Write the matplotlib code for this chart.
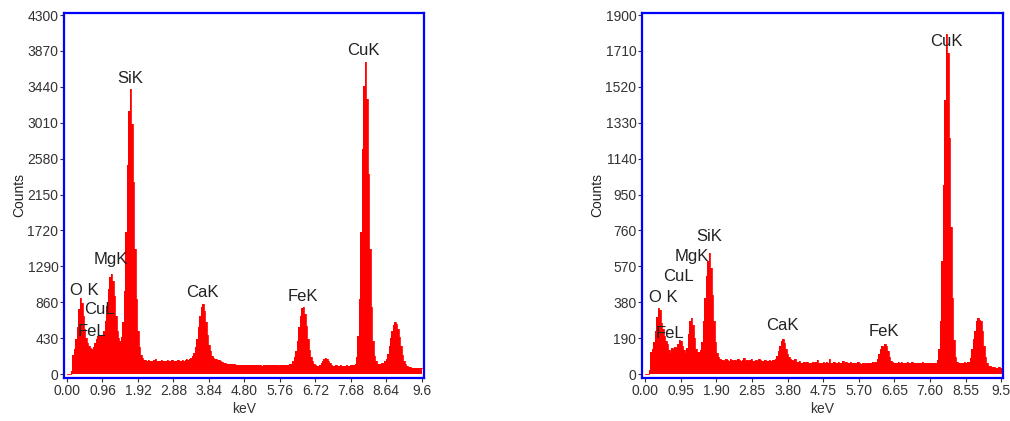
import numpy as np
import matplotlib
matplotlib.use("Agg")
import matplotlib.pyplot as plt

plt.rcParams['font.family'] = ['Liberation Sans', 'DejaVu Sans']

# channel width of both spectra (keV)
step = 0.04

# left spectrum, counts per channel from 0.00 keV
counts_a = [
    0, 0, 0, 40, 230, 300, 420, 560, 780, 910,
    850, 700, 540, 430, 370, 340, 310, 300, 320, 370,
    420, 450, 460, 450, 470, 520, 640, 820, 1020, 1160,
    1200, 1110, 930, 700, 520, 430, 400, 440, 620, 1000,
    1700, 2500, 3150, 3410, 3000, 2300, 1500, 900, 520, 320,
    230, 190, 170, 165, 160, 170, 155, 160, 150, 165,
    175, 160, 150, 155, 165, 160, 150, 160, 170, 160,
    155, 165, 150, 160, 155, 165, 160, 155, 170, 160,
    165, 175, 170, 180, 190, 215, 250, 320, 420, 560,
    700, 800, 840, 760, 620, 470, 350, 270, 220, 195,
    180, 175, 170, 165, 150, 140, 135, 130, 125, 125,
    120, 118, 115, 120, 112, 110, 108, 112, 105, 110,
    108, 104, 110, 106, 112, 104, 108, 102, 110, 106,
    104, 108, 100, 106, 110, 104, 102, 108, 104, 106,
    102, 108, 104, 100, 106, 110, 104, 108, 106, 110,
    112, 115, 125, 150, 200, 280, 400, 560, 700, 790,
    800, 720, 580, 420, 290, 200, 150, 120, 105, 100,
    100, 110, 130, 160, 185, 195, 180, 160, 130, 110,
    100, 98, 102, 96, 100, 104, 98, 100, 96, 102,
    98, 100, 104, 106, 110, 120, 200, 450, 900, 1700,
    2700, 3450, 3740, 3300, 2400, 1500, 800, 400, 220, 150,
    125, 120, 125, 130, 135, 150, 180, 240, 330, 430,
    520, 590, 625, 600, 540, 440, 330, 230, 160, 120,
    95, 85, 80, 75, 75, 72, 70, 72, 70, 68,
    70,
]

# right spectrum, counts per channel from 0.00 keV
counts_b = [
    0, 0, 0, 20, 115, 130, 170, 230, 300, 350,
    340, 270, 240, 200, 175, 160, 125, 110, 140, 135,
    145, 140, 160, 180, 175, 150, 125, 112, 140, 210,
    280, 296, 260, 190, 130, 118, 115, 125, 170, 280,
    400, 520, 600, 640, 560, 420, 280, 170, 110, 88,
    78, 72, 75, 70, 82, 74, 70, 78, 72, 68,
    74, 70, 80, 72, 68, 76, 84, 70, 72, 68,
    72, 78, 70, 68, 74, 70, 82, 72, 68, 70,
    74, 70, 68, 72, 70, 74, 72, 80, 95, 120,
    150, 175, 185, 165, 135, 105, 88, 80, 75, 70,
    82, 66, 62, 70, 60, 58, 62, 56, 64, 58,
    60, 56, 66, 58, 62, 72, 56, 60, 58, 64,
    58, 62, 56, 80, 60, 58, 62, 56, 60, 64,
    56, 60, 70, 58, 62, 56, 60, 66, 58, 56,
    60, 58, 62, 56, 54, 60, 58, 52, 56, 60,
    56, 58, 62, 60, 65, 80, 105, 130, 150, 145,
    160, 150, 120, 90, 70, 62, 58, 60, 56, 62,
    58, 64, 60, 56, 58, 66, 60, 58, 62, 56,
    60, 58, 56, 60, 58, 62, 56, 60, 58, 56,
    58, 60, 56, 58, 60, 75, 130, 280, 600, 1000,
    1450, 1800, 1700, 1250, 780, 400, 180, 90, 65, 58,
    58, 60, 58, 62, 60, 65, 66, 85, 130, 185,
    230, 280, 296, 285, 280, 230, 150, 90, 60, 45,
    40, 38, 35, 36, 34, 33, 35, 32, 33,
]

xticks_a = [0.00, 0.96, 1.92, 2.88, 3.84, 4.80, 5.76, 6.72, 7.68, 8.64, 9.60]
xlabels_a = ["0.00", "0.96", "1.92", "2.88", "3.84", "4.80", "5.76", "6.72", "7.68", "8.64", "9.6"]
yticks_a = [0, 430, 860, 1290, 1720, 2150, 2580, 3010, 3440, 3870, 4300]

xticks_b = [0.00, 0.95, 1.90, 2.85, 3.80, 4.75, 5.70, 6.65, 7.60, 8.55, 9.50]
xlabels_b = ["0.00", "0.95", "1.90", "2.85", "3.80", "4.75", "5.70", "6.65", "7.60", "8.55", "9.5"]
yticks_b = [0, 190, 380, 570, 760, 950, 1140, 1330, 1520, 1710, 1900]

# peak labels: (text, keV, counts)
peaks_a = [("O K", 0.46, 1006), ("CuL", 0.89, 767), ("FeL", 0.68, 515),
           ("MgK", 1.19, 1366), ("SiK", 1.70, 3546), ("CaK", 3.67, 982),
           ("FeK", 6.38, 934), ("CuK", 8.03, 3873)]
peaks_b = [("O K", 0.49, 406), ("CuL", 0.89, 515), ("FeL", 0.67, 217),
           ("MgK", 1.24, 624), ("SiK", 1.71, 730), ("CaK", 3.67, 259),
           ("FeK", 6.36, 224), ("CuK", 8.03, 1758)]


def draw_spectrum(ax, counts, xticks, xlabels, yticks, peaks, xlim, ylim):
    energy = np.arange(len(counts)) * step
    ax.fill_between(energy, counts, step='mid', color='#ff0000', linewidth=0)
    ax.step(energy, counts, where='mid', color='#ff0000', linewidth=0.6)
    ax.set_xlim(*xlim)
    ax.set_ylim(*ylim)
    ax.set_xticks(xticks)
    ax.set_xticklabels(xlabels)
    ax.set_yticks(yticks)
    ax.set_yticklabels([str(v) for v in yticks])
    ax.tick_params(direction='out', length=3, width=0.8, pad=1,
                   labelsize=10, colors='#333333')
    for s in ax.spines.values():
        s.set_color('#0000ff')
        s.set_linewidth(1.6)
    ax.set_xlabel('keV', fontsize=10, color='#333333', labelpad=3)
    ax.set_ylabel('Counts', fontsize=10, color='#222222', labelpad=1)
    for name, x, y in peaks:
        ax.text(x, y, name, ha='center', va='center', fontsize=12, color='#222222')


fig = plt.figure(figsize=(10.1, 4.21), dpi=100)
ax1 = fig.add_axes([0.0634, 0.1021, 0.3564, 0.868])
ax2 = fig.add_axes([0.6356, 0.1021, 0.3574, 0.868])

draw_spectrum(ax1, counts_a, xticks_a, xlabels_a, yticks_a, peaks_a,
              (-0.08, 9.66), (-48, 4330))
draw_spectrum(ax2, counts_b, xticks_b, xlabels_b, yticks_b, peaks_b,
              (-0.08, 9.54), (-21, 1913))

fig.savefig('out.png', dpi=100)
